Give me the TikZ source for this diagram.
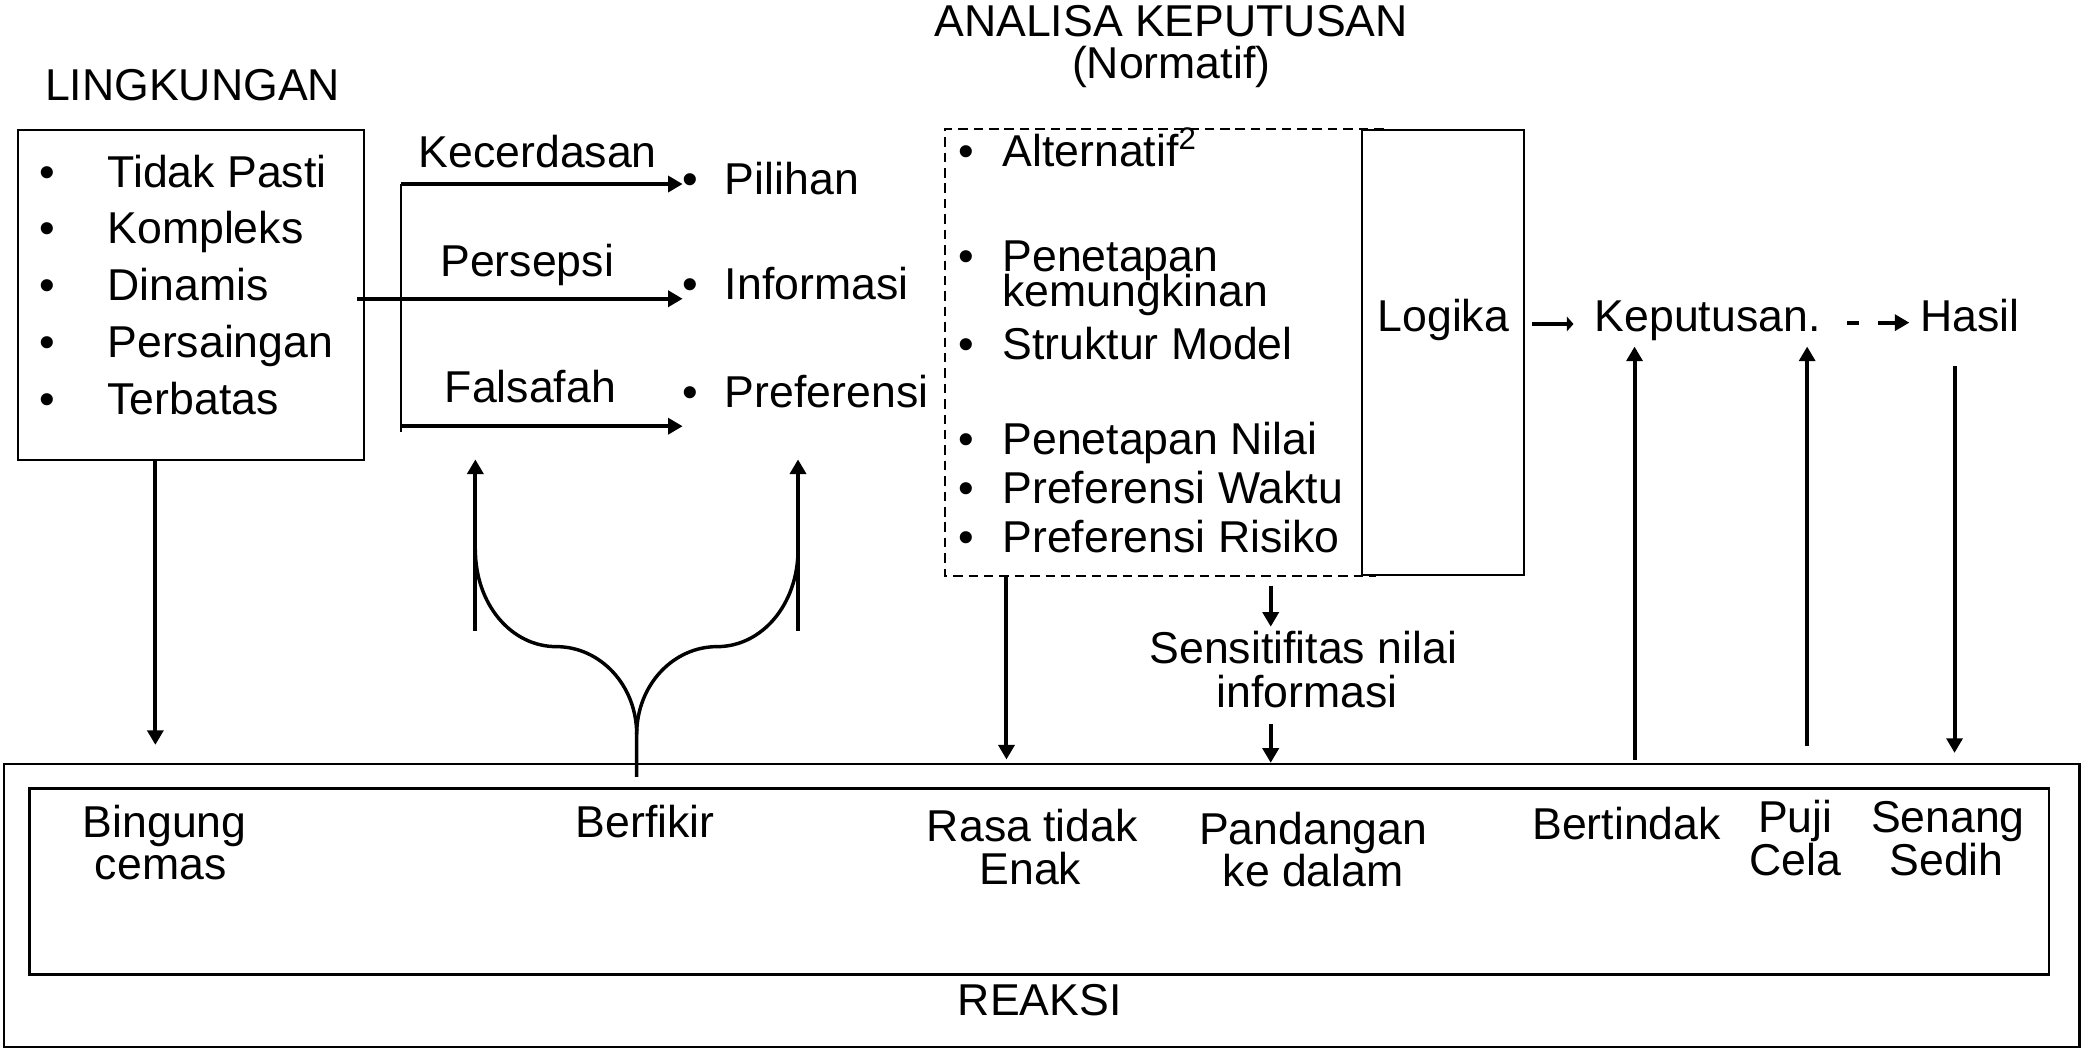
\documentclass[tikz,border=0pt]{standalone}
\usepackage{fontspec}
\setmainfont{Liberation Sans}
\usetikzlibrary{arrows.meta,fit}
\newcommand\txtsize{\fontsize{16.8pt}{20pt}\selectfont}
\begin{document}
\begin{tikzpicture}[x=0.5pt,y=-0.5pt,
  lbl/.style={inner sep=0pt,outer sep=0pt,font=\txtsize},
  frame/.style={draw,line width=0.85pt,inner sep=0pt,outer sep=0pt},
  arr/.style={line width=1.5pt,-{Triangle[length=5.5pt,width=6pt]}},
  stem/.style={line width=1.3pt},
]
\fill[white] (0,0) rectangle (1568,790);
\useasboundingbox (0,0) rectangle (1568,790);

% ---------- titles
\node[lbl,anchor=base] (tling) at (145,76) {LINGKUNGAN};
\node[lbl,anchor=base] (tana)  at (882,27.5) {ANALISA KEPUTUSAN};
\node[lbl,anchor=base] (tnorm) at (882,59) {(Normatif)};

% ---------- environment box
\node[frame,fit={(13.5,98) (274,346.5)}] (env) {};
\foreach \t/\y [count=\i] in {Tidak Pasti/141, Kompleks/183.5, Dinamis/226, Persaingan/269, Terbatas/312.5} {
  \node[lbl,anchor=base] (envb\i) at (35.5,\y) {•};
  \node[lbl,anchor=base west] (env\i) at (81,\y) {\t};
}

% ---------- three inputs
\foreach \t/\y [count=\i] in {Pilihan/146.5, Informasi/225.5, Preferensi/307} {
  \node[lbl,anchor=base] (inb\i) at (520,\y) {•};
  \node[lbl,anchor=base west] (in\i) at (546,\y) {\t};
}
\node[lbl,anchor=base] (kec) at (405,126.5) {Kecerdasan};
\node[lbl,anchor=base] (per) at (397,208) {Persepsi};
\node[lbl,anchor=base] (fal) at (399.5,303) {Falsafah};

\coordinate (splT) at (302,138.6);
\coordinate (splB) at (302,325.5);
\coordinate (splF) at (302,321);
\coordinate (dinOut) at (269,225);
\draw[line width=1.1pt] (splT) -- (splB);
\draw[arr] (splT) -- (inb1.west |- splT);
\draw[arr] (dinOut) -- (inb2.west |- dinOut);
\draw[arr] (splF) -- (inb3.west |- splF);

% ---------- decision analysis block
\coordinate (daTR) at (1042,97);
\coordinate (daTL) at (712,97);
\coordinate (daBL) at (712,434);
\coordinate (daBR) at (1036,434);
\draw[line width=0.75pt,dash pattern=on 3.6pt off 2.2pt] (daTR) -- (daTL) -- (daBL) -- (daBR);
\node[inner sep=0pt,fit=(daTL) (daBR)] (ana) {};

\node[lbl,anchor=base] (ab1) at (728,125.5) {•};
\node[lbl,anchor=base west] (a1) at (755,125.5) {Alternatif\textsuperscript{2}};
\node[lbl,anchor=base] (ab2) at (728,204.6) {•};
\node[lbl,anchor=base west] (a2) at (755,204.6)
  {\begin{tabular}[t]{@{}l@{}}Penetapan\\[-7pt]kemungkinan\end{tabular}};
\node[lbl,anchor=base] (ab3) at (728,271) {•};
\node[lbl,anchor=base west] (a3) at (755,271) {Struktur Model};
\node[lbl,anchor=base] (ab4) at (728,342.5) {•};
\node[lbl,anchor=base west] (a4) at (755,342.5) {Penetapan Nilai};
\node[lbl,anchor=base] (ab5) at (728,379.5) {•};
\node[lbl,anchor=base west] (a5) at (755,379.5) {Preferensi Waktu};
\node[lbl,anchor=base] (ab6) at (728,416) {•};
\node[lbl,anchor=base west] (a6) at (755,416) {Preferensi Risiko};

\node[draw,line width=0.8pt,inner sep=0pt,fit={(1026,98) (1148,433)}] (logbox) {};
\node[lbl,anchor=base] (logika) at (1087,249.5) {Logika};

\node[lbl,anchor=base west] (kep) at (1201,249.5) {Keputusan.};
\node[lbl,anchor=base west] (hasil) at (1446,249.5) {Hasil};

\coordinate (logOut) at (1154,244);
\coordinate (kepIn) at (1185,244);
\draw[line width=1.5pt,-{Triangle[length=2.5pt,width=5.5pt]}] (logOut) -- (kepIn);
\draw[line width=1.5pt,dash pattern=on 4.5pt off 7pt on 30pt,
      -{Triangle[length=5.5pt,width=6pt]}]
      (1391,243) coordinate (kepOut) -- (1438,243) coordinate (hasIn);

% ---------- sensitivity
\node[lbl,anchor=base] (sens1) at (981.5,500) {Sensitifitas nilai};
\node[lbl,anchor=base] (sens2) at (984.5,533) {informasi};
\coordinate (senTop) at (957,441);
\coordinate (senIn) at (957,472);
\coordinate (senOut) at (957,545);

% ---------- reaction block
\node[draw,line width=1pt,inner sep=0pt,fit={(3,575.5) (1566,788.5)}] (reaksi) {};
\node[draw,line width=1pt,inner sep=0pt,fit={(22,593.6) (1543,734)}] (inner) {};
\node[lbl,anchor=base] (treaksi) at (783,765) {REAKSI};

\node[lbl,anchor=base] (r1a) at (124,631) {Bingung};
\node[lbl,anchor=base] (r1b) at (121,662.5) {cemas};
\node[lbl,anchor=base] (r2)  at (486,631) {Berfikir};
\node[lbl,anchor=base] (r3a) at (777.5,633.5) {Rasa tidak};
\node[lbl,anchor=base] (r3b) at (776,666) {Enak};
\node[lbl,anchor=base] (r4a) at (989,636) {Pandangan};
\node[lbl,anchor=base] (r4b) at (989,668) {ke dalam};
\node[lbl,anchor=base] (r5)  at (1225,632) {Bertindak};
\node[lbl,anchor=base] (r6a) at (1352,627) {Puji};
\node[lbl,anchor=base] (r6b) at (1352,659) {Cela};
\node[lbl,anchor=base] (r7a) at (1467,627) {Senang};
\node[lbl,anchor=base] (r7b) at (1466,659) {Sedih};

% ---------- vertical connectors
\coordinate (envDown) at (117,561);
\draw[arr] (env.south -| envDown) -- (envDown);

\coordinate (anaDown) at (758,572);
\draw[arr] (ana.south -| anaDown) -- (anaDown);

\draw[arr] (senTop) -- (senIn);
\draw[arr] (senOut) -- (reaksi.north -| senOut);

\coordinate (actUp) at (1231,572);
\coordinate (praiseUp) at (1361,562);
\coordinate (kepA) at (1231,261);
\coordinate (kepB) at (1361,261);
\draw[arr] (actUp) -- (kepA);
\draw[arr] (praiseUp) -- (kepB);

\coordinate (hasOut) at (1472,276);
\coordinate (joyIn) at (1472,567);
\draw[arr] (hasOut) -- (joyIn);

% ---------- thinking: forked curve into the three arrows
\coordinate (thBase) at (479.5,585);
\coordinate (thFork) at (479.5,553);
\coordinate (thL) at (358,414);
\coordinate (thR) at (601,414);
\draw[stem] (thBase) -- (thFork)
  .. controls (479.5,516) and (452,487) .. (419,487)
  .. controls (385,487) and (358,455) .. (thL);
\draw[stem] (thFork)
  .. controls (479.5,516) and (507,487) .. (540,487)
  .. controls (574,487) and (601,455) .. (thR);
\coordinate (thLlow) at (358,475);
\coordinate (thRlow) at (601,475);
\coordinate (thLtip) at (358,346);
\coordinate (thRtip) at (601,346);
\draw[arr] (thLlow) -- (thLtip);
\draw[arr] (thRlow) -- (thRtip);
\end{tikzpicture}
\end{document}
